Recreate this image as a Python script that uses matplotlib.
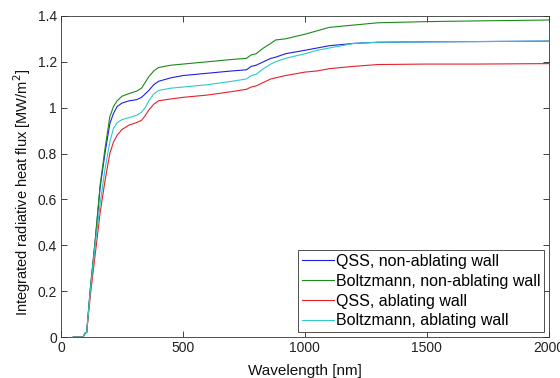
import matplotlib
matplotlib.use("Agg")
import matplotlib.pyplot as plt

plt.rcParams["font.family"] = ["Liberation Sans", "DejaVu Sans"]

# wavelength grid [nm]
wavelength = [50, 90, 100, 105, 120, 140, 160, 180, 200, 215, 230, 250, 280, 310,
              330, 345, 360, 380, 400, 450, 500, 600, 700, 760, 780, 800, 830, 860,
              880, 920, 1000, 1050, 1100, 1200, 1300, 1500, 1700, 2000]

qss_nonabl = [0, 0, 0.02, 0.02, 0.21, 0.42, 0.65, 0.80, 0.93, 0.975, 1.005, 1.02, 1.03, 1.035,
              1.045, 1.06, 1.075, 1.10, 1.115, 1.13, 1.14, 1.15, 1.16, 1.165, 1.18, 1.185, 1.20, 1.215,
              1.22, 1.235, 1.25, 1.26, 1.27, 1.28, 1.285, 1.287, 1.288, 1.29]

boltz_nonabl = [0, 0, 0.02, 0.02, 0.21, 0.42, 0.66, 0.82, 0.96, 1.005, 1.03, 1.05, 1.062, 1.072,
                1.085, 1.11, 1.135, 1.16, 1.175, 1.185, 1.19, 1.20, 1.21, 1.215, 1.23, 1.235, 1.26, 1.28,
                1.295, 1.30, 1.32, 1.335, 1.35, 1.36, 1.37, 1.375, 1.378, 1.382]

qss_abl = [0, 0, 0.02, 0.02, 0.18, 0.36, 0.54, 0.68, 0.80, 0.85, 0.88, 0.905, 0.925, 0.935,
           0.945, 0.965, 0.99, 1.015, 1.03, 1.038, 1.045, 1.055, 1.07, 1.08, 1.09, 1.095, 1.11, 1.125,
           1.13, 1.14, 1.155, 1.16, 1.17, 1.18, 1.188, 1.19, 1.19, 1.192]

boltz_abl = [0, 0, 0.02, 0.02, 0.20, 0.40, 0.58, 0.73, 0.85, 0.91, 0.935, 0.948, 0.957, 0.967,
             0.98, 1.00, 1.03, 1.06, 1.075, 1.085, 1.09, 1.10, 1.115, 1.125, 1.14, 1.145, 1.17, 1.19,
             1.20, 1.215, 1.235, 1.25, 1.26, 1.28, 1.285, 1.287, 1.288, 1.29]

labels = ["QSS, non-ablating wall", "Boltzmann, non-ablating wall",
          "QSS, ablating wall", "Boltzmann, ablating wall"]
colors = ["#2020e0", "#1a8a1a", "#e8202a", "#30c8c8"]

fig = plt.figure(figsize=(5.6, 3.78), dpi=100)
ax = fig.add_axes([0.109, 0.108, 0.871, 0.85])

for ys, lab, col in zip([qss_nonabl, boltz_nonabl, qss_abl, boltz_abl], labels, colors):
    ax.plot(wavelength, ys, color=col, lw=0.8, label=lab)

ax.set_xlim(0, 2000)
ax.set_ylim(0, 1.4)
ax.set_xticks([0, 500, 1000, 1500, 2000])
ax.set_yticks([0, 0.2, 0.4, 0.6, 0.8, 1.0, 1.2, 1.4])
ax.set_yticklabels(["0", "0.2", "0.4", "0.6", "0.8", "1", "1.2", "1.4"])
ax.tick_params(direction="in", top=True, right=True, labelsize=10, length=4, width=0.6,
               pad=3, colors="#222222")
for s in ax.spines.values():
    s.set_linewidth(0.6)
    s.set_color("#333333")

ax.set_xlabel("Wavelength [nm]", fontsize=11, color="#111111")
ax.set_ylabel("Integrated radiative heat flux [MW/m$^2$]", fontsize=10.5, color="#111111")
ax.yaxis.set_label_coords(-0.058, 0.45)
ax.xaxis.set_label_coords(0.5, -0.085)

leg = ax.legend(loc="lower right", fontsize=11.5, fancybox=False, edgecolor="#333333",
                handlelength=2.0, handletextpad=0.1, borderpad=0.25, labelspacing=0.3,
                borderaxespad=0.3, framealpha=1)
leg.get_frame().set_linewidth(0.6)

fig.savefig("out.png", dpi=100)
